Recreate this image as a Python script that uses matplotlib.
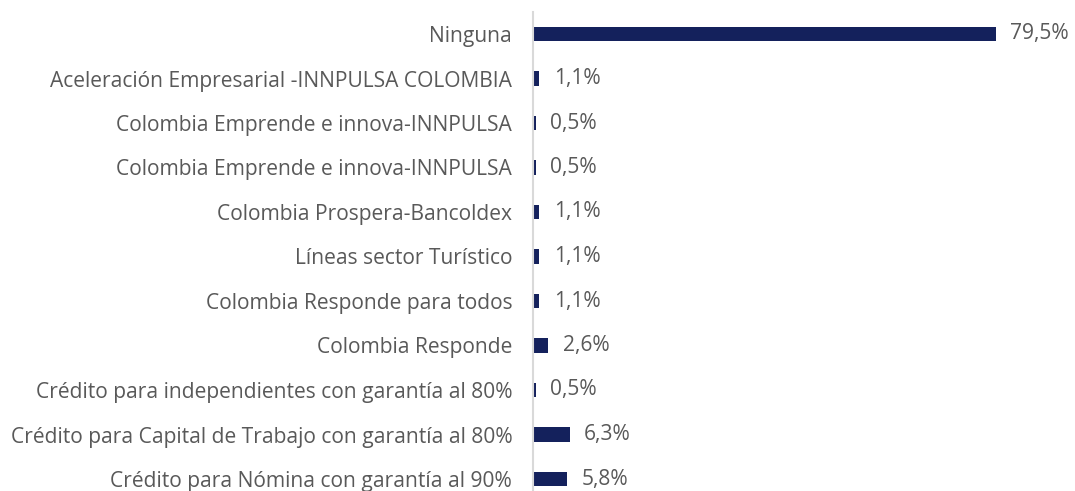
import matplotlib
matplotlib.use("Agg")
import matplotlib.pyplot as plt

categories = [
    "Ninguna",
    "Aceleración Empresarial -INNPULSA COLOMBIA",
    "Colombia Emprende e innova-INNPULSA",
    "Colombia Emprende e innova-INNPULSA",
    "Colombia Prospera-Bancoldex",
    "Líneas sector Turístico",
    "Colombia Responde para todos",
    "Colombia Responde",
    "Crédito para independientes con garantía al 80%",
    "Crédito para Capital de Trabajo con garantía al 80%",
    "Crédito para Nómina con garantía al 90%",
]
values = [79.5, 1.1, 0.5, 0.5, 1.1, 1.1, 1.1, 2.6, 0.5, 6.3, 5.8]
value_labels = ["79,5%", "1,1%", "0,5%", "0,5%", "1,1%", "1,1%", "1,1%",
                "2,6%", "0,5%", "6,3%", "5,8%"]

plt.rcParams['font.family'] = ['Open Sans', 'DejaVu Sans']

W, H = 1075, 491
fig = plt.figure(figsize=(W / 100, H / 100), dpi=100)
left = 533 / W
top = 1 - 11.75 / H
bottom = 1 - 501.25 / H
ax = fig.add_axes([left, bottom, 1 - left, top - bottom])

bar_color = "#14215c"
text_color = "#595959"
pos = list(range(len(categories)))
ax.barh(pos, values, height=0.32, color=bar_color)
ax.set_ylim(len(categories) - 0.5, -0.5)
ax.set_xlim(0, (W - 533) / 5.82)

fs = 15.1
for p, v, lab in zip(pos, values, value_labels):
    ax.annotate(lab, (v, p), xytext=(10.5, 0), textcoords="offset points",
                va="center", ha="left", fontsize=fs, color=text_color)

ax.set_yticks(pos)
ax.set_yticklabels(categories, fontsize=fs, color=text_color)
ax.tick_params(axis="y", length=0, pad=15)
ax.set_xticks([])
for s in ["top", "right", "bottom"]:
    ax.spines[s].set_visible(False)
ax.spines["left"].set_color("#d9d9d9")
ax.spines["left"].set_linewidth(1.5)

fig.savefig("out.png", dpi=100)
